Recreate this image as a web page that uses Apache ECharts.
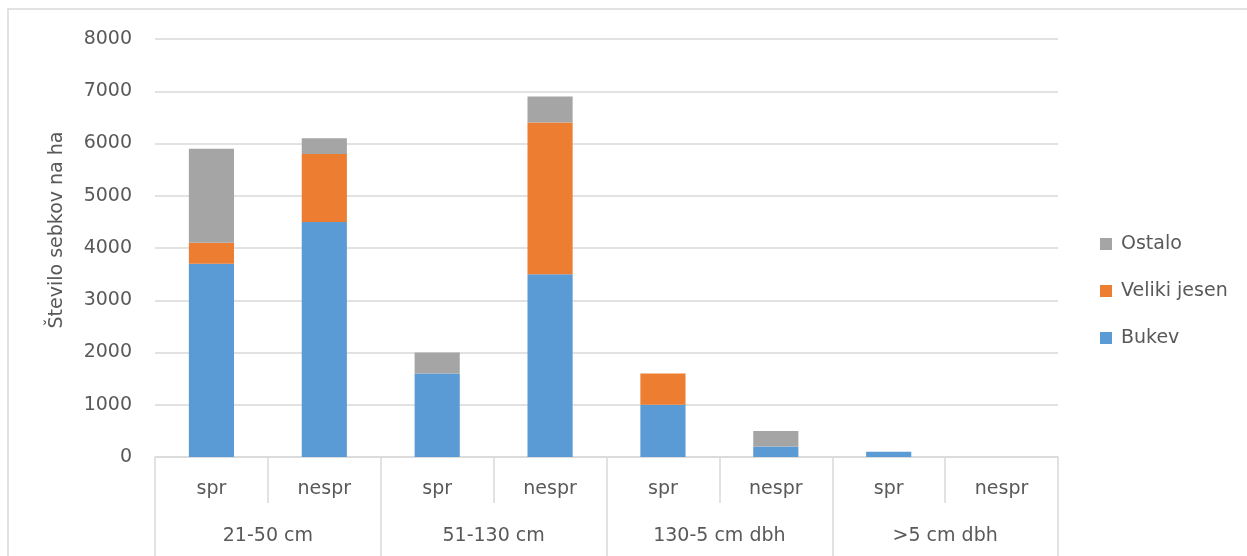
<!DOCTYPE html>
<html>
<head>
<meta charset="utf-8">
<script src="https://cdn.jsdelivr.net/npm/echarts@6/dist/echarts.min.js"></script>
<style>
  html, body { margin: 0; padding: 0; background: #fff; }
  #chart { width: 1247px; height: 556px; }
</style>
</head>
<body>
<div id="chart"></div>
<script>
// Sub-categories (managed / unmanaged) and their diameter groups
const subCategories = ['spr', 'nespr', 'spr', 'nespr', 'spr', 'nespr', 'spr', 'nespr'];
const groups = ['21-50 cm', '51-130 cm', '130-5 cm dbh', '>5 cm dbh'];

// Number of saplings per hectare, stacked by species
const bukev = [3700, 4500, 1600, 3500, 1000, 200, 100, 0];
const velikiJesen = [400, 1300, 0, 2900, 600, 0, 0, 0];
const ostalo = [1800, 300, 400, 500, 0, 300, 0, 0];

const yTicks = { min: 0, max: 8000, interval: 1000 };
const yTitle = 'Število sebkov na ha';

const FONT = 'DejaVu Sans';
const TEXT = '#595959';
const LINE = '#d9d9d9';

const chart = echarts.init(document.getElementById('chart'), null, { renderer: 'canvas' });

function barSeries(name, data, color) {
  return {
    name: name,
    type: 'bar',
    stack: 'total',
    data: data,
    barWidth: '40%',
    itemStyle: { color: color },
    emphasis: { disabled: true }
  };
}

chart.setOption({
  animation: false,
  backgroundColor: '#fff',
  textStyle: { fontFamily: FONT },
  grid: { left: 155, right: 189, top: 39, bottom: 99 },
  legend: {
    orient: 'vertical',
    left: 1095,
    top: 228,
    itemWidth: 12,
    itemHeight: 12,
    itemGap: 25,
    icon: 'rect',
    data: ['Ostalo', 'Veliki jesen', 'Bukev'],
    textStyle: { fontFamily: FONT, fontSize: 19, color: TEXT, padding: [0, 0, 0, 4], lineHeight: 22 }
  },
  xAxis: [
    {
      type: 'category',
      data: subCategories,
      position: 'bottom',
      axisLine: { show: true, lineStyle: { color: LINE, width: 1.5 } },
      axisTick: { show: true, interval: 0, length: 46, lineStyle: { color: LINE, width: 1.5 } },
      axisLabel: { interval: 0, margin: 23, fontFamily: FONT, fontSize: 19, color: TEXT }
    },
    {
      type: 'category',
      data: groups,
      position: 'bottom',
      offset: 46,
      axisLine: { show: false },
      axisTick: { show: true, interval: 0, length: 55, lineStyle: { color: LINE, width: 1.5 } },
      axisLabel: { interval: 0, margin: 24, fontFamily: FONT, fontSize: 19, color: TEXT }
    }
  ],
  yAxis: {
    type: 'value',
    min: yTicks.min,
    max: yTicks.max,
    interval: yTicks.interval,
    axisLine: { show: false },
    axisTick: { show: false },
    splitLine: { lineStyle: { color: LINE, width: 1.5 } },
    axisLabel: {
      margin: 23,
      fontFamily: FONT,
      fontSize: 19,
      color: TEXT,
      formatter: function (v) { return String(v); }
    }
  },
  series: [
    barSeries('Bukev', bukev, '#5b9bd5'),
    barSeries('Veliki jesen', velikiJesen, '#ed7d31'),
    barSeries('Ostalo', ostalo, '#a5a5a5')
  ],
  graphic: [
    {
      type: 'rect',
      shape: { x: 8, y: 9, width: 1300, height: 600 },
      style: { fill: 'none', stroke: LINE, lineWidth: 1.5 },
      silent: true,
      z: -1
    },
    {
      type: 'text',
      x: 57,
      y: 230,
      rotation: Math.PI / 2,
      style: {
        text: yTitle,
        fontFamily: FONT,
        fontSize: 19,
        fill: TEXT,
        align: 'center',
        verticalAlign: 'middle'
      }
    }
  ]
});
</script>
</body>
</html>
